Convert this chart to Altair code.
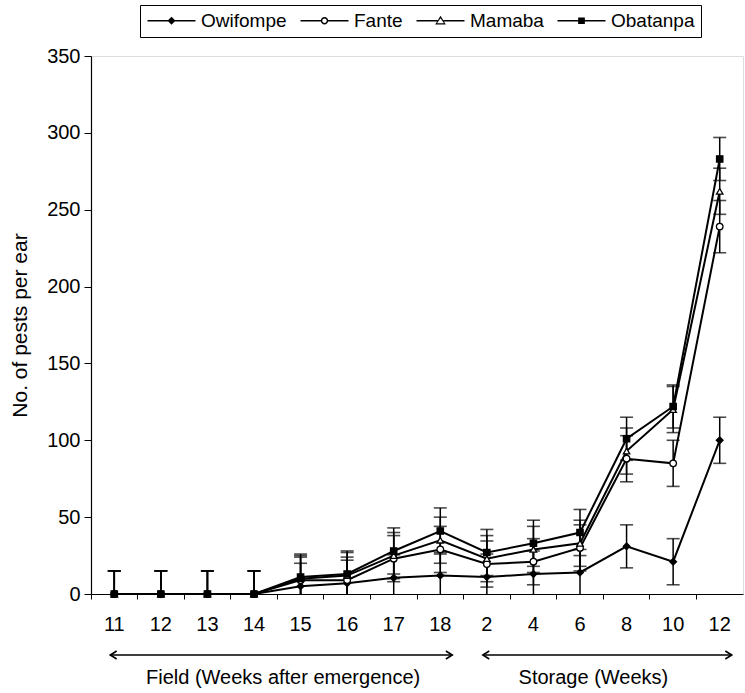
import altair as alt
import pandas as pd

# ---- data ----
categories = ["F11", "F12", "F13", "F14", "F15", "F16", "F17", "F18",
              "S2", "S4", "S6", "S8", "S10", "S12"]
series_names = ["Owifompe", "Fante", "Mamaba", "Obatanpa"]

owifompe = [0, 0, 0, 0, 5, 7, 10.5, 12, 11, 13, 14, 31, 21, 100]
fante = [0, 0, 0, 0, 9, 9, 23, 29, 19.5, 21, 30, 88, 85, 239]
mamaba = [0, 0, 0, 0, 10, 12, 25, 35, 23, 29, 33, 93, 120, 262]
obatanpa = [0, 0, 0, 0, 11, 13, 28, 41, 27, 33, 40, 101, 122, 283]

err_owifompe = [15, 15, 15, 15, 15, 15, 15, 15, 15, 15, 15, 14, 15, 15]
err_fante = [15, 15, 15, 15, 15, 15, 15, 15, 15, 15, 15, 15, 15, 17]
err_mamaba = [15, 15, 15, 15, 15, 15, 15, 15, 15, 15, 15, 15, 15, 15]
err_obatanpa = [15, 15, 15, 15, 15, 15, 15, 15, 15, 15, 15, 14, 14, 14]

y_ticks = [0, 50, 100, 150, 200, 250, 300, 350]

arrow_labels = ["Field  (Weeks after emergence)", "Storage (Weeks)"]
arrow_start = ["F11", "S2"]
arrow_end = ["F18", "S12"]

# ---- tables ----
rows = []
for name, vals, errs in zip(series_names,
                            [owifompe, fante, mamaba, obatanpa],
                            [err_owifompe, err_fante, err_mamaba, err_obatanpa]):
    for c, v, e in zip(categories, vals, errs):
        rows.append({"week": c, "series": name, "value": v, "err": e})
df = pd.DataFrame(rows)
ann = pd.DataFrame({"label": arrow_labels, "start": arrow_start, "end": arrow_end})

FONT = "Liberation Sans"
W, H = 652, 538

xscale = alt.Scale(type="band", domain=categories, paddingInner=0, paddingOuter=0)
main_xaxis = alt.Axis(title=None, orient="bottom", labelExpr="slice(datum.label, 1)",
                      labelAngle=0, labelFontSize=20, labelFont=FONT, labelColor="black",
                      ticks=False, labelPadding=20, domainColor="black", domainWidth=1.2)
tick_xaxis = alt.Axis(title=None, orient="bottom", bandPosition=0, labels=False,
                      domain=False, ticks=True, tickSize=5, tickColor="black", tickWidth=1)

yscale = alt.Scale(domain=[0, 350], nice=False, zero=True)
yaxis = alt.Axis(title="No. of pests per ear", values=y_ticks, grid=False,
                 labelFontSize=20, labelFont=FONT, labelColor="black",
                 titleFontSize=21, titleFont=FONT, titleFontWeight="normal",
                 titleColor="black", titlePadding=16, tickSize=7, tickColor="black",
                 domainColor="black", domainWidth=1.2, labelPadding=4)

X_main = alt.X("week:N", sort=categories, scale=xscale, axis=main_xaxis)
X_none = alt.X("week:N", sort=categories, scale=xscale, axis=None)
X_tick = alt.X("week:N", sort=categories, scale=xscale, axis=tick_xaxis)
Y_val = alt.Y("value:Q", scale=yscale, axis=yaxis)

base = alt.Chart(df)

lines = base.mark_line(color="black", strokeWidth=2).encode(
    x=X_main, y=Y_val, detail="series:N")

err_base = base.transform_calculate(
    lo="datum.value - datum.err", hi="datum.value + datum.err")
rules = err_base.mark_rule(color="black", strokeWidth=1.5, clip=True).encode(
    x=X_tick, y=alt.Y("lo:Q", scale=yscale, axis=yaxis), y2="hi:Q")
cap_hi = err_base.mark_tick(color="black", thickness=1.6, size=13, clip=True).encode(
    x=X_none, y=alt.Y("hi:Q", scale=yscale, axis=yaxis))
cap_lo = err_base.mark_tick(color="black", thickness=1.6, size=13, clip=True).encode(
    x=X_none, y=alt.Y("lo:Q", scale=yscale, axis=yaxis))

points = base.mark_point(filled=True, stroke="black", strokeWidth=1.3, opacity=1).encode(
    x=X_none, y=Y_val,
    shape=alt.Shape("series:N", scale=alt.Scale(domain=series_names,
                    range=["diamond", "circle", "triangle-up", "square"]), legend=None),
    fill=alt.Fill("series:N", scale=alt.Scale(domain=series_names,
                  range=["black", "white", "white", "black"]), legend=None),
    size=alt.Size("series:N", scale=alt.Scale(domain=series_names,
                  range=[45, 40, 90, 45]), legend=None),
)

# legend symbols drawn as filled outlines: a line segment with the marker in its middle
legend_paths = [
    "M-3,-0.1H3V0.1H-3Z M0,-0.5L0.5,0L0,0.5L-0.5,0Z",
    "M-3,-0.1H-0.45V0.1H-3Z M0.45,-0.1H3V0.1H0.45Z "
    "M-0.46,0A0.46,0.46 0 1,1 0.46,0A0.46,0.46 0 1,1 -0.46,0Z "
    "M-0.28,0A0.28,0.28 0 1,0 0.28,0A0.28,0.28 0 1,0 -0.28,0Z",
    "M-3,-0.1H-0.36V0.1H-3Z M0.36,-0.1H3V0.1H0.36Z "
    "M0,-0.62L0.66,0.46L-0.66,0.46Z M0,-0.3L-0.43,0.32L0.43,0.32Z",
    "M-3,-0.1H3V0.1H-3Z M-0.42,-0.42H0.42V0.42H-0.42Z",
]
leg = alt.Legend(title=None, orient="none", legendX=49, legendY=-51,
                 direction="horizontal", columns=4, strokeColor="black",
                 fillColor="white", padding=6, symbolSize=256, symbolOffset=16,
                 labelOffset=20, columnPadding=12, labelFontSize=19, labelFont=FONT,
                 labelColor="black", symbolFillColor="black", symbolStrokeWidth=0,
                 symbolOpacity=1, cornerRadius=0)
legend_layer = base.transform_filter("false").mark_point(
    filled=True, color="black", strokeWidth=0).encode(
    x=X_none, y=Y_val,
    shape=alt.Shape("series:N", scale=alt.Scale(domain=series_names, range=legend_paths),
                    legend=leg),
)

# arrows and group labels under the axis
ann_base = alt.Chart(ann)
arrow_y = H + 61
arrow_rule = ann_base.mark_rule(color="black", strokeWidth=1.6, xOffset=-4, x2Offset=12).encode(
    x=alt.X("start:N", scale=xscale, axis=None),
    x2="end:N", y=alt.value(arrow_y))
head_left = ann_base.mark_point(shape="M1.6,-1L0,0L1.6,1", filled=False, color="black",
                                strokeWidth=1.6, size=64, opacity=1, xOffset=-4).encode(
    x=alt.X("start:N", scale=xscale, axis=None), y=alt.value(arrow_y))
head_right = ann_base.mark_point(shape="M-1.6,-1L0,0L-1.6,1", filled=False, color="black",
                                 strokeWidth=1.6, size=64, opacity=1, xOffset=12).encode(
    x=alt.X("end:N", scale=xscale, axis=None), y=alt.value(arrow_y))
ann_text = ann_base.mark_text(align="left", baseline="middle", fontSize=20, font=FONT,
                              color="black", xOffset=55).encode(
    x=alt.X("start:N", scale=xscale, axis=None, bandPosition=0),
    y=alt.value(arrow_y + 23), text="label:N")

chart = alt.layer(
    lines, rules, cap_hi, cap_lo, points, legend_layer,
    arrow_rule, head_left, head_right, ann_text
).resolve_scale(
    shape="independent", fill="independent"
).resolve_axis(
    x="independent"
).properties(
    width=W, height=H,
    autosize=alt.AutoSizeParams(type="none"),
    padding={"left": 91, "top": 56, "right": 2, "bottom": 99},
).configure_view(stroke=None).configure(background="white")

chart.save("out.html", embed_options={"renderer": "svg", "actions": False})
